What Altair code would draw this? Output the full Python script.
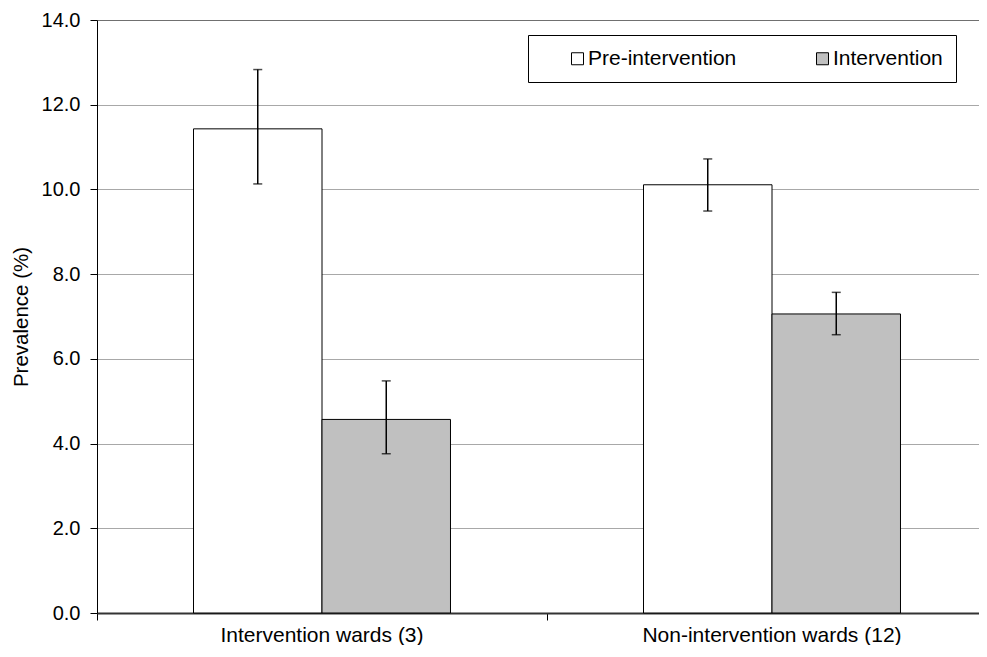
import altair as alt
import pandas as pd

groups = ["Intervention wards (3)", "Non-intervention wards (12)"]
series = ["Pre-intervention", "Intervention"]
pre_vals = [11.43, 10.11]
pre_lo = [10.13, 9.49]
pre_hi = [12.83, 10.72]
int_vals = [4.57, 7.06]
int_lo = [3.76, 6.57]
int_hi = [5.48, 7.57]
y_ticks = [0, 2, 4, 6, 8, 10, 12, 14]
fills = ["#ffffff", "#c0c0c0"]

rows = []
for i, g in enumerate(groups):
    rows.append({"group": g, "series": series[0], "value": pre_vals[i], "lo": pre_lo[i], "hi": pre_hi[i]})
    rows.append({"group": g, "series": series[1], "value": int_vals[i], "lo": int_lo[i], "hi": int_hi[i]})
df = pd.DataFrame(rows)

FONT = "Liberation Sans"
PLOT_W = 900
PLOT_H = 593

x_enc = alt.X(
    "group:N",
    sort=groups,
    scale=alt.Scale(paddingInner=0, paddingOuter=0),
    axis=alt.Axis(
        title=None,
        labelAngle=0,
        bandPosition=0,
        labelFontSize=21,
        labelColor="#000000",
        labelFont=FONT,
        labelPadding=4,
        tickSize=7,
        tickColor="#000000",
        domainColor="#333333",
        domainWidth=2,
        grid=False,
        labelLimit=400,
    ),
)
xo_enc = alt.XOffset(
    "series:N",
    sort=series,
    scale=alt.Scale(paddingInner=0, paddingOuter=0.751),
)
y_scale = alt.Scale(domain=[0, 14], nice=False, zero=True)

bars = alt.Chart(df).mark_bar(stroke="#000000", strokeWidth=1).encode(
    x=x_enc,
    xOffset=xo_enc,
    y=alt.Y(
        "value:Q",
        scale=y_scale,
        axis=alt.Axis(
            title="Prevalence (%)",
            values=y_ticks,
            format=".1f",
            labelFontSize=20,
            labelFont=FONT,
            labelColor="#000000",
            labelPadding=10,
            tickSize=7,
            tickColor="#000000",
            domainColor="#000000",
            domainWidth=1,
            titleFontSize=20.5,
            titleFont=FONT,
            titleFontWeight="normal",
            titleColor="#000000",
            titlePadding=10,
            grid=True,
            gridColor={"condition": {"test": "datum.value === 14", "value": "#707070"}, "value": "#a8a8a8"},
            gridWidth=1,
        ),
    ),
    fill=alt.Fill(
        "series:N",
        sort=series,
        scale=alt.Scale(domain=series, range=fills),
        legend=alt.Legend(
            title="\u00a0",
            titleOrient="left",
            titleFontSize=20,
            titlePadding=26,
            orient="none",
            legendX=431,
            legendY=15,
            direction="horizontal",
            columnPadding=75,
            padding=13,
            strokeColor="#000000",
            fillColor="#ffffff",
            symbolType="square",
            symbolSize=144,
            symbolStrokeColor="#000000",
            symbolStrokeWidth=1,
            labelFontSize=21,
            labelFont=FONT,
            labelColor="#000000",
            labelOffset=0,
            labelLimit=300,
        ),
    ),
)

err = alt.Chart(df).mark_rule(color="#000000", strokeWidth=1.5).encode(
    x=x_enc,
    xOffset=xo_enc,
    y=alt.Y("lo:Q", scale=y_scale),
    y2="hi:Q",
)
cap_hi = alt.Chart(df).mark_tick(color="#000000", size=9, thickness=1.5).encode(
    x=x_enc,
    xOffset=xo_enc,
    y=alt.Y("hi:Q", scale=y_scale),
)
cap_lo = alt.Chart(df).mark_tick(color="#000000", size=9, thickness=1.5).encode(
    x=x_enc,
    xOffset=xo_enc,
    y=alt.Y("lo:Q", scale=y_scale),
)

chart = alt.layer(bars, err, cap_hi, cap_lo).properties(
    width=PLOT_W,
    height=PLOT_H,
    autosize=alt.AutoSizeParams(type="none"),
    padding={"left": 89, "top": 12, "right": -18, "bottom": 32},
).configure_view(stroke=None).configure(font=FONT)

chart.save("out.html", embed_options={"renderer": "svg", "actions": False})
